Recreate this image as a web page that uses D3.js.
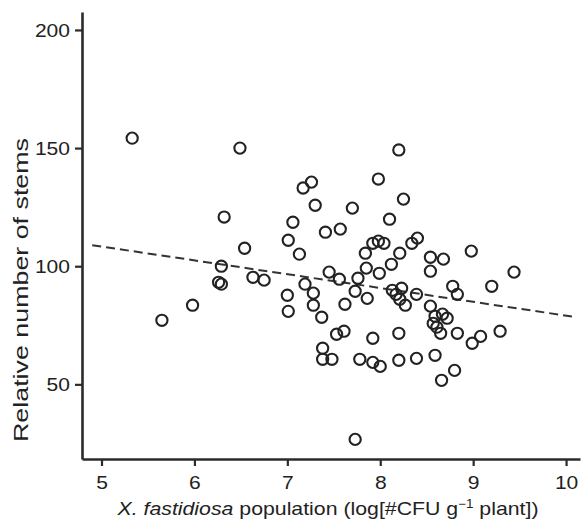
<!DOCTYPE html>
<html>
<head>
<meta charset="utf-8">
<script src="https://cdn.jsdelivr.net/npm/d3@7"></script>
<style>
    body { margin: 0; background: #fff; }
    text { font-family: "Liberation Sans", Arial, sans-serif; fill: #222; }
</style>
</head>
<body>
<svg id="scatter"></svg>
<script>
// population (log CFU per g plant) of every plant
const populationLog = [
    5.33, 6.49, 6.32, 6.54, 6.29, 6.26, 6.29, 6.63, 6.75, 5.65,
    5.98, 7.00, 7.01, 7.17, 7.26, 7.30, 7.06, 7.41, 7.01, 7.13,
    7.19, 7.28, 7.28, 7.37, 7.45, 7.56, 7.57, 7.70, 7.98, 8.25,
    8.10, 8.20, 7.92, 7.98, 8.04, 8.34, 8.40, 7.84, 8.21, 8.54,
    8.68, 8.98, 7.85, 8.12, 8.54, 7.76, 7.99, 7.73, 7.86, 7.62,
    8.13, 8.23, 8.21, 8.27, 8.39, 8.17, 8.78, 8.83, 9.20, 9.44,
    8.54, 8.59, 8.67, 8.72, 8.57, 8.61, 8.65, 8.83, 8.99, 9.08,
    9.29, 7.53, 7.61, 7.92, 8.20, 7.38, 7.38, 7.48, 7.78, 7.92,
    8.00, 8.20, 8.39, 8.59, 8.80, 8.66, 7.73
];

// relative number of stems of the same plants
const relativeStems = [
    154.2, 150.0, 120.8, 107.6, 100.0, 93.2, 92.4, 95.3, 94.1, 77.1,
    83.5, 87.7, 80.9, 133.1, 135.6, 125.8, 118.6, 114.4, 111.0, 105.1,
    92.4, 88.6, 83.5, 78.4, 97.5, 94.5, 115.7, 124.6, 136.9, 128.4,
    119.9, 149.2, 109.7, 110.6, 109.7, 109.7, 111.9, 105.5, 105.5, 103.8,
    103.0, 106.4, 99.2, 100.8, 97.9, 94.9, 97.0, 89.4, 86.4, 83.9,
    89.8, 90.7, 86.0, 83.5, 88.1, 88.1, 91.5, 88.1, 91.5, 97.5,
    83.1, 78.8, 79.7, 78.0, 75.8, 74.2, 71.6, 71.6, 67.4, 70.3,
    72.5, 71.2, 72.5, 69.5, 71.6, 65.3, 60.6, 60.6, 60.6, 59.3,
    57.6, 60.2, 61.0, 62.3, 55.9, 51.7, 26.7
];

// fitted trend line ends
const trendX = [4.9, 10.1];
const trendY = [108.9, 78.5];

// tick labels
const xTicks = [5, 6, 7, 8, 9, 10];
const yTicks = [50, 100, 150, 200];

const canvWidth = 582;
const canvHeight = 521;

const svg = d3.select("#scatter")
    .attr("width", canvWidth)
    .attr("height", canvHeight);

// scales, axis box from x=82 to 580 and y=12 to 459
const x = d3.scaleLinear().domain([4.79, 10.15]).range([82, 580]);
const y = d3.scaleLinear().domain([18.4, 207.6]).range([459, 12]);

const data = populationLog.map(function (d, i) {
    return { pop: d, stems: relativeStems[i] };
});

// x axis
const xAxis = svg.append("g")
    .attr("transform", "translate(0," + y.range()[0] + ")")
    .call(d3.axisBottom(x).tickValues(xTicks).tickFormat(d3.format("d"))
        .tickSize(7).tickSizeOuter(0).tickPadding(10));

// y axis
const yAxis = svg.append("g")
    .attr("transform", "translate(" + x.range()[0] + ",0)")
    .call(d3.axisLeft(y).tickValues(yTicks).tickFormat(d3.format("d"))
        .tickSize(7).tickSizeOuter(0).tickPadding(5));

// axis styling, the labels in the figure are a bit wide so stretch them
[xAxis, yAxis].forEach(function (ax) {
    ax.select(".domain").attr("stroke", "#2b2b2b").attr("stroke-width", 2.6);
    ax.selectAll(".tick line").attr("stroke", "#2b2b2b").attr("stroke-width", 2.2);
    ax.selectAll(".tick text")
        .attr("fill", "#222")
        .attr("textLength", function (d) { return String(d).length * 11.7; })
        .attr("lengthAdjust", "spacingAndGlyphs")
        .style("font-family", "'Liberation Sans', Arial, sans-serif")
        .style("font-size", "19px");
});

// dashed trend line
const line = d3.line()
    .x(function (d) { return x(d[0]); })
    .y(function (d) { return y(d[1]); });

svg.append("path")
    .datum(trendX.map(function (d, i) { return [d, trendY[i]]; }))
    .attr("d", line)
    .attr("fill", "none")
    .attr("stroke", "#333")
    .attr("stroke-width", 2)
    .attr("stroke-dasharray", "9,5");

// points as open circles
svg.selectAll(".dot")
    .data(data)
    .enter().append("circle")
    .attr("class", "dot")
    .attr("cx", function (d) { return x(d.pop); })
    .attr("cy", function (d) { return y(d.stems); })
    .attr("r", 5.6)
    .attr("fill", "none")
    .attr("stroke", "#222")
    .attr("stroke-width", 2.1);

// y axis title
svg.append("text")
    .attr("transform", "translate(28,290) rotate(-90)")
    .attr("text-anchor", "middle")
    .attr("textLength", 304)
    .attr("lengthAdjust", "spacingAndGlyphs")
    .style("font-size", "21px")
    .text("Relative number of stems");

// x axis title
const xTitle = svg.append("text")
    .attr("x", 328)
    .attr("y", 515)
    .attr("text-anchor", "middle")
    .attr("textLength", 421)
    .attr("lengthAdjust", "spacingAndGlyphs")
    .style("font-size", "19px");

xTitle.append("tspan").style("font-style", "italic").text("X. fastidiosa");
xTitle.append("tspan").text(" population (log[#CFU g");
xTitle.append("tspan").attr("dy", -7).style("font-size", "12px").text("\u22121");
xTitle.append("tspan").attr("dy", 7).text(" plant])");
</script>
</body>
</html>
